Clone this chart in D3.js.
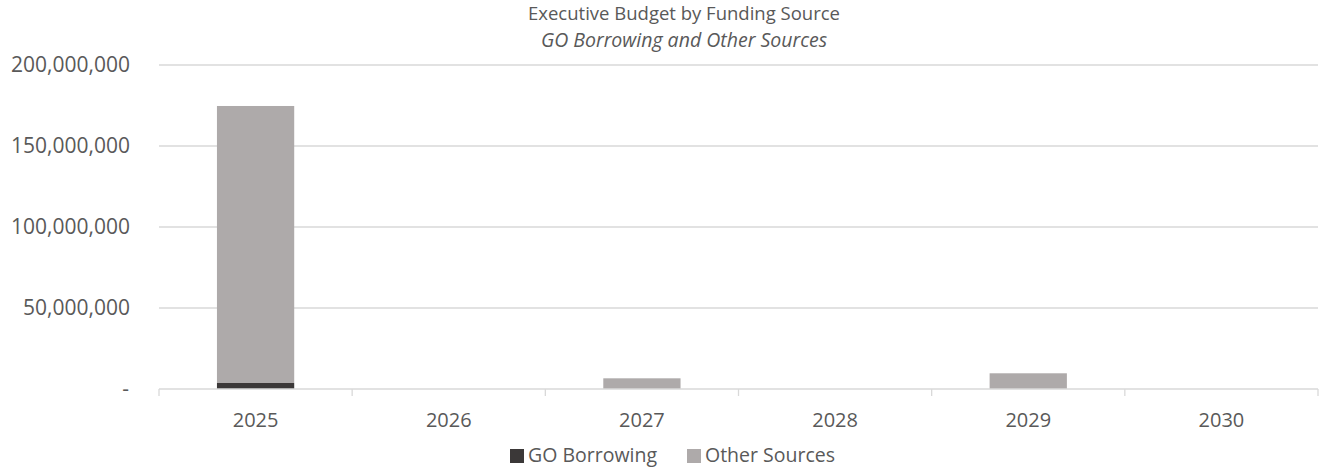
<!DOCTYPE html>
<html><head><meta charset="utf-8">
<script src="https://cdn.jsdelivr.net/npm/d3@7"></script>
<style>body{margin:0;background:#fff;} text{font-family:"Open Sans",sans-serif;fill:#595959;}</style>
</head><body>
<svg id="c" width="1320" height="471"></svg>
<script>
const categories = ["2025","2026","2027","2028","2029","2030"];
const goBorrowing = [3700000, 0, 0, 0, 0, 0];
const otherSources = [171000000, 0, 6600000, 0, 9700000, 0];
const yTicks = [0, 50000000, 100000000, 150000000, 200000000];
const seriesNames = ["GO Borrowing", "Other Sources"];
const colors = ["#3B3838", "#AEAAAA"];

const svg = d3.select("#c");
const L = 159, R = 1318, T = 65, B = 389;
const x = d3.scaleBand().domain(categories).range([L, R]).paddingInner(0.6).paddingOuter(0.3);
const xb = d3.scaleBand().domain(categories).range([L, R]);
const y = d3.scaleLinear().domain([0, 200000000]).range([B, T]);

// gridlines
svg.append("g").selectAll("line").data(yTicks.slice(1)).join("line")
  .attr("x1", L).attr("x2", R).attr("y1", d => y(d)).attr("y2", d => y(d))
  .attr("stroke", "#D9D9D9").attr("stroke-width", 1.3);

// y labels
const fmt = d3.format(",");
svg.append("g").selectAll("text").data(yTicks).join("text")
  .attr("x", d => d === 0 ? 129 : 130).attr("y", d => y(d)).attr("dy", "0.35em")
  .attr("text-anchor", "end").style("font-size", "21px")
  .text(d => d === 0 ? "-" : fmt(d));

// stacked bars
const rows = categories.map((c, i) => ({cat: c, "GO Borrowing": goBorrowing[i], "Other Sources": otherSources[i]}));
const stack = d3.stack().keys(seriesNames)(rows);
svg.append("g").selectAll("g").data(stack).join("g").attr("fill", (d, i) => colors[i])
  .selectAll("rect").data(d => d).join("rect")
  .attr("x", d => x(d.data.cat)).attr("width", x.bandwidth())
  .attr("y", d => y(d[1])).attr("height", d => y(d[0]) - y(d[1]));

// x axis line & ticks
svg.append("line").attr("x1", L).attr("x2", R).attr("y1", B).attr("y2", B)
  .attr("stroke", "#D9D9D9").attr("stroke-width", 1.3);
const edges = categories.map(c => xb(c)).concat([R]);
svg.append("g").selectAll("line").data(edges).join("line")
  .attr("x1", d => d).attr("x2", d => d).attr("y1", B).attr("y2", B + 7)
  .attr("stroke", "#D9D9D9").attr("stroke-width", 1.3);
svg.append("g").selectAll("text").data(categories).join("text")
  .attr("x", d => xb(d) + xb.bandwidth() / 2).attr("y", 427)
  .attr("text-anchor", "middle").style("font-size", "20px").text(d => d);

// title
svg.append("text").attr("x", 684).attr("y", 20).attr("text-anchor", "middle")
  .style("font-size", "18.5px").text("Executive Budget by Funding Source");
svg.append("text").attr("x", 684).attr("y", 46.5).attr("text-anchor", "middle")
  .style("font-size", "19.5px").style("font-style", "italic").text("GO Borrowing and Other Sources");

// legend
const legX = [510, 687];
const lg = svg.append("g").selectAll("g").data(seriesNames).join("g")
  .attr("transform", (d, i) => `translate(${legX[i]},449)`);
lg.append("rect").attr("width", 14).attr("height", 14).attr("fill", (d, i) => colors[i]);
lg.append("text").attr("x", 18).attr("y", 13).style("font-size", "19.5px").text(d => d);
</script>
</body></html>
